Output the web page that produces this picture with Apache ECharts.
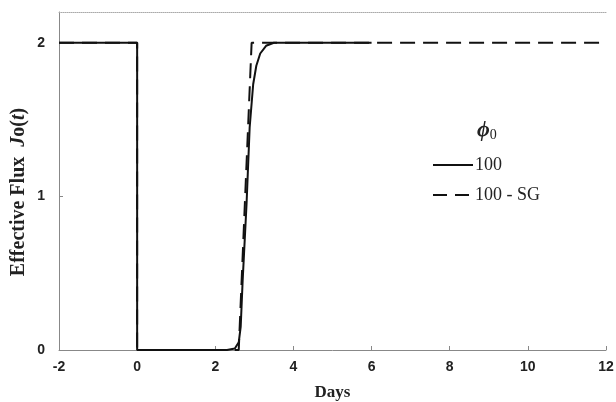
<!DOCTYPE html>
<html><head><meta charset="utf-8">
<script src="https://cdn.jsdelivr.net/npm/echarts@6/dist/echarts.min.js"></script>
<style>html,body{margin:0;padding:0;background:#fff}#c{width:616px;height:402px}</style>
</head><body><div id="c"></div>
<script>
// Data
const solidX = [-2, 0, 0, 2.3, 2.5, 2.6, 2.65, 2.7, 2.8, 2.88, 2.97, 3.05, 3.15, 3.3, 3.5, 6];
const solidY = [2, 2, 0, 0, 0.01, 0.05, 0.15, 0.45, 0.95, 1.45, 1.73, 1.85, 1.93, 1.98, 2, 2];
const sgX = [-2, 0, 0, 2.6, 2.93, 12];
const sgY = [2, 2, 0, 0, 2, 2];
const xTicks = [-2, 0, 2, 4, 6, 8, 10, 12];
const yTicks = [0, 1, 2];
const seriesNames = ['100', '100 - SG'];

const pair = (xs, ys) => xs.map((x, i) => [x, ys[i]]);
const chart = echarts.init(document.getElementById('c'), null, {renderer: 'canvas'});
const labelFont = {fontFamily: 'Liberation Sans', fontWeight: 'bold', fontSize: 14, color: '#222'};
chart.setOption({
  animation: false,
  grid: {left: 59, right: 10, top: 12, bottom: 52, outerBoundsMode: 'none', containLabel: false},
  xAxis: [{
    type: 'value', min: -2, max: 12, interval: 2,
    axisLine: {onZero: false, lineStyle: {color: '#888', width: 1}},
    axisTick: {inside: true, length: 4, lineStyle: {color: '#888'}},
    axisLabel: Object.assign({margin: 10, customValues: xTicks}, labelFont),
    splitLine: {show: false},
    name: 'Days', nameLocation: 'middle', nameGap: 34,
    nameTextStyle: {fontFamily: 'Liberation Serif', fontWeight: 'bold', fontSize: 17, color: '#222'}
  }, {
    type: 'value', position: 'top', min: -2, max: 12,
    axisLine: {show: true, onZero: false, lineStyle: {color: '#aaa', type: [1, 1], width: 1}},
    axisTick: {show: false}, axisLabel: {show: false}, splitLine: {show: false}
  }],
  yAxis: {
    type: 'value', min: 0, max: 2.2, interval: 1,
    axisLine: {show: true, onZero: false, lineStyle: {color: '#888', width: 1}},
    axisTick: {show: true, inside: true, length: 4, lineStyle: {color: '#888'}, customValues: [1]},
    axisLabel: Object.assign({margin: 14, customValues: yTicks}, labelFont),
    splitLine: {show: false}
  },
  legend: {
    orient: 'vertical', left: 427, top: 151, itemWidth: 40, itemHeight: 14, itemGap: 12,
    data: [
      {name: seriesNames[0], itemStyle: {opacity: 0}, lineStyle: {color: '#111', width: 2, type: 'solid'}},
      {name: seriesNames[1], itemStyle: {opacity: 0}, lineStyle: {color: '#111', width: 2, type: [14, 8]}}
    ],
    textStyle: {fontFamily: 'Liberation Serif', fontSize: 18, color: '#222', padding: [0, 0, 0, -3]}
  },
  graphic: [{
    type: 'text', x: 19, y: 192, rotation: Math.PI / 2,
    style: {
      text: '{n|Effective Flux  }{i|J}{n|o(}{i|t}{n|)}',
      align: 'center', verticalAlign: 'middle',
      rich: {
        n: {fontFamily: 'Liberation Serif', fontWeight: 'bold', fontSize: 20, fill: '#222'},
        i: {fontFamily: 'Liberation Serif', fontWeight: 'bold', fontStyle: 'italic', fontSize: 20, fill: '#222'}
      }
    }
  }, {
    type: 'text', x: 477, y: 118,
    style: {
      text: '{p|ϕ}{s|0}',
      rich: {
        p: {fontFamily: 'Liberation Serif', fontWeight: 'bold', fontStyle: 'italic', fontSize: 22, fill: '#222'},
        s: {fontFamily: 'Liberation Serif', fontSize: 14, fill: '#222', padding: [10, 0, 0, 0]}
      }
    }
  }],
  series: [{
    name: seriesNames[1], type: 'line', data: pair(sgX, sgY), symbol: 'none', z: 2,
    lineStyle: {color: '#111', width: 2, type: [15, 8]}, itemStyle: {color: '#111'}
  }, {
    name: seriesNames[0], type: 'line', data: pair(solidX, solidY), symbol: 'none', z: 3,
    lineStyle: {color: '#111', width: 2}, itemStyle: {color: '#111'}
  }]
});
</script></body></html>
